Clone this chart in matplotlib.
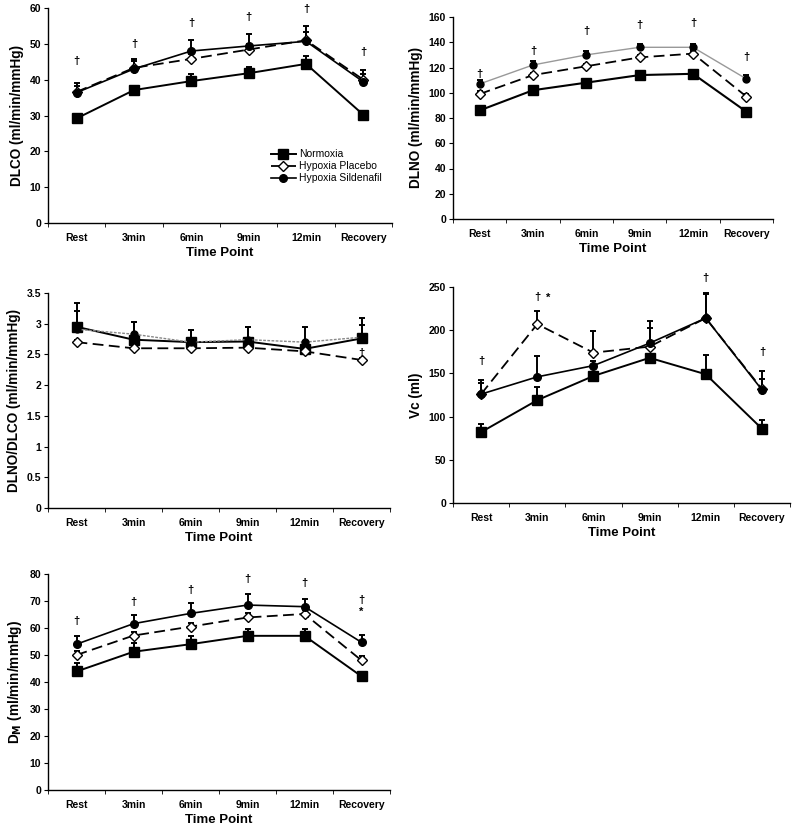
import matplotlib
matplotlib.use('Agg')
import matplotlib.pyplot as plt

plt.rcParams['font.family'] = ['Liberation Sans', 'DejaVu Sans']

# category axis
times = ['Rest', '3min', '6min', '9min', '12min', 'Recovery']

# DLCO
dlco_norm = [29.2, 37.1, 39.6, 41.8, 44.4, 30.2]
dlco_norm_err = [0.6, 0.9, 2.0, 1.7, 2.2, 0.9]
dlco_plac = [36.6, 43.3, 45.8, 48.4, 51.0, 40.0]
dlco_plac_err = [1.5, 1.8, 1.5, 1.5, 2.3, 1.5]
dlco_sild = [36.4, 43.0, 48.0, 49.4, 50.7, 39.4]
dlco_sild_err = [2.6, 2.8, 3.0, 3.4, 4.3, 3.4]
dlco_sig = [45.2, 50.0, 55.7, 57.6, 59.7, 47.6]

# DLNO
dlno_norm = [86, 102, 108, 114, 115, 85]
dlno_norm_err = [2, 2, 2, 2, 2, 2]
dlno_plac = [99, 114, 121, 128, 131, 97]
dlno_plac_err = [2, 2, 2, 2, 2, 2]
dlno_sild = [107, 122, 130, 136, 136, 111]
dlno_sild_err = [3, 3, 3, 3, 3, 3]
dlno_sig = [115, 133, 149, 154, 155, 128]

# DLNO/DLCO
ratio_norm = [2.95, 2.74, 2.70, 2.71, 2.59, 2.76]
ratio_norm_err = [0.38, 0.28, 0.20, 0.23, 0.08, 0.34]
ratio_plac = [2.70, 2.60, 2.60, 2.61, 2.55, 2.41]
ratio_plac_err = [0.04, 0.04, 0.04, 0.04, 0.04, 0.04]
ratio_sild = [2.91, 2.83, 2.70, 2.74, 2.70, 2.78]
ratio_sild_err = [0.3, 0.2, 0.2, 0.2, 0.25, 0.2]
ratio_sig = [None, None, None, None, None, 2.53]

# Vc
vc_norm = [82, 119, 147, 168, 149, 86]
vc_norm_err = [10, 15, 4, 4, 22, 10]
vc_plac = [126, 207, 174, 181, 214, 132]
vc_plac_err = [13, 15, 25, 21, 28, 21]
vc_sild = [126, 146, 159, 185, 214, 131]
vc_sild_err = [16, 24, 5, 26, 29, 12]
vc_sig = [164, 238, None, None, 260, 175]
vc_star = [None, 238, None, None, None, None]

# DM
dm_norm = [43.9, 51.2, 54.0, 57.1, 57.1, 42.1]
dm_norm_err = [3.3, 3.1, 3.2, 2.7, 2.5, 1.0]
dm_plac = [50.0, 57.2, 60.5, 63.9, 65.2, 48.0]
dm_plac_err = [1.5, 1.5, 1.5, 1.5, 1.5, 1.8]
dm_sild = [54.0, 61.6, 65.4, 68.5, 67.9, 54.7]
dm_sild_err = [3.0, 3.1, 3.7, 4.1, 2.9, 2.7]
dm_sig = [62.6, 69.7, 74.0, 78.0, 76.5, 70.3]
dm_star = [None, None, None, None, None, 66.0]

W, H = 800, 835
fig = plt.figure(figsize=(W / 100, H / 100), dpi=100)


def axes_px(l, t, r, b):
    return fig.add_axes([l / W, 1 - b / H, (r - l) / W, (b - t) / H])


def style(ax, ymax, ystep, ylabel):
    for s in ['top', 'right']:
        ax.spines[s].set_visible(False)
    ax.spines['left'].set_linewidth(1.0)
    ax.spines['bottom'].set_linewidth(1.0)
    ax.set_xlim(-0.5, 5.5)
    ax.set_ylim(0, ymax)
    ticks = [i * ystep for i in range(int(round(ymax / ystep)) + 1)]
    ax.set_yticks(ticks)
    ax.set_yticklabels([('%g' % t) for t in ticks], fontsize=7.5, fontweight='bold')
    ax.set_xticks(range(len(times)))
    ax.set_xticklabels(times, fontsize=7.5, fontweight='bold')
    ax.set_xticks([i + 0.5 for i in range(-1, len(times))], minor=True)
    ax.tick_params(axis='x', which='major', length=0, pad=7)
    ax.tick_params(axis='x', which='minor', length=3, direction='out')
    ax.tick_params(axis='y', length=3, direction='out', pad=2)
    ax.set_xlabel('Time Point', fontsize=9.5, fontweight='bold', labelpad=3)
    ax.set_ylabel(ylabel, fontsize=9.8, fontweight='bold', labelpad=4)


def series(ax, y, err, marker, ls='-', color='black', lw=1.3, mfc='black', ms=6, label=None):
    x = range(len(y))
    ax.errorbar(x, y, yerr=[[0] * len(err), err], fmt='none', ecolor='black',
                elinewidth=1.4, capsize=2.5, capthick=1.4, zorder=2)
    ax.plot(x, y, linestyle=ls, color=color, lw=lw, marker=marker, ms=ms,
            mfc=mfc, mec='black', mew=1.0, label=label, zorder=3)


def marks(ax, ys, text='\u2020', dx=0.0):
    for i, yv in enumerate(ys):
        if yv is None:
            continue
        ax.text(i + dx, yv, text, ha='center', va='center', fontsize=8, fontweight='bold')


dash = (0, (6, 3))

# panel 1: DLCO
ax1 = axes_px(48, 8, 392, 223)
style(ax1, 60, 10, 'DLCO (ml/min/mmHg)')
series(ax1, dlco_norm, dlco_norm_err, 's', lw=1.4, ms=6.5, label='Normoxia')
series(ax1, dlco_plac, dlco_plac_err, 'D', ls=dash, mfc='white', ms=5, label='Hypoxia Placebo')
series(ax1, dlco_sild, dlco_sild_err, 'o', lw=1.2, ms=5.5, label='Hypoxia Sildenafil')
marks(ax1, dlco_sig)
ax1.legend(loc='lower right', bbox_to_anchor=(0.985, 0.16), frameon=False, fontsize=7.5,
           handlelength=2.4, handletextpad=0.3, labelspacing=0.2, borderpad=0)

# panel 2: DLNO
ax2 = axes_px(453, 17, 773, 219)
style(ax2, 160, 20, 'DLNO (ml/min/mmHg)')
series(ax2, dlno_norm, dlno_norm_err, 's', lw=1.5, ms=6.5)
series(ax2, dlno_plac, dlno_plac_err, 'D', ls=dash, mfc='white', ms=5)
series(ax2, dlno_sild, dlno_sild_err, 'o', color='#999999', lw=1.0, ms=5)
marks(ax2, dlno_sig)

# panel 3: DLNO/DLCO
ax3 = axes_px(48, 293, 390, 508)
style(ax3, 3.5, 0.5, 'DLNO/DLCO (ml/min/mmHg)')
series(ax3, ratio_norm, ratio_norm_err, 's', lw=1.4, ms=6.5)
series(ax3, ratio_plac, ratio_plac_err, 'D', ls=dash, mfc='white', ms=5)
series(ax3, ratio_sild, ratio_sild_err, 'o', ls=(0, (2, 1)), color='#888888', lw=1.0, ms=5)
marks(ax3, ratio_sig)

# panel 4: Vc
ax4 = axes_px(453, 287, 790, 503)
style(ax4, 250, 50, 'Vc (ml)')
series(ax4, vc_norm, vc_norm_err, 's', lw=1.4, ms=6.5)
series(ax4, vc_plac, vc_plac_err, 'D', ls=dash, mfc='white', ms=5)
series(ax4, vc_sild, vc_sild_err, 'o', lw=1.2, ms=5.5)
marks(ax4, vc_sig)
marks(ax4, vc_star, text='*', dx=0.2)

# panel 5: DM
ax5 = axes_px(48, 574, 390, 790)
style(ax5, 80, 10, r'D$_\mathbf{M}$ (ml/min/mmHg)')
series(ax5, dm_norm, dm_norm_err, 's', lw=1.4, ms=6.5)
series(ax5, dm_plac, dm_plac_err, 'D', ls=dash, mfc='white', ms=5)
series(ax5, dm_sild, dm_sild_err, 'o', lw=1.2, ms=5.5)
marks(ax5, dm_sig)
marks(ax5, dm_star, text='*')

fig.savefig('out.png', dpi=100)
